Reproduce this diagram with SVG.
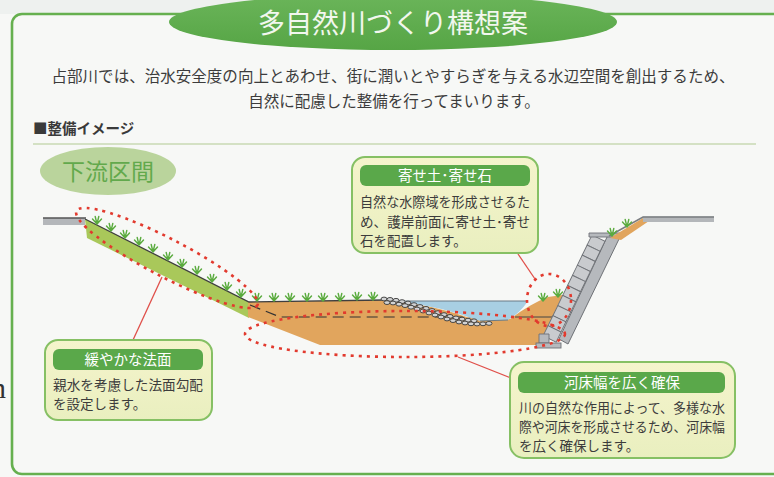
<svg xmlns="http://www.w3.org/2000/svg" width="774" height="477" viewBox="0 0 774 477">
  <defs>
    <style>
      .jp { font-family: "Noto Sans CJK JP", "Noto Sans CJK SC", sans-serif; }
      .body { font-size: 15.5px; fill: #3c3c3c; }
      .note { font-size: 13.5px; fill: #3c3c3c; }
      .head { font-size: 14.5px; fill: #ffffff; text-anchor: middle; }
      .box { fill: url(#boxFill); stroke: #86c064; stroke-width: 2; }
      .bar { fill: #5aa84a; }
      .dots { fill: none; stroke: #e23a2e; stroke-width: 2.6; stroke-dasharray: 3 5; }
      .lead { stroke: #e0504a; stroke-width: 1.3; fill: none; }
      .rock { fill: #d2d3d4; stroke: #3a3a3a; stroke-width: 0.9; }
      .blk { fill: #c9cbce; stroke: #6e7176; stroke-width: 0.9; }
      .grass { fill: none; stroke: #5aab3e; stroke-width: 1.4; stroke-linecap: round; }
    </style>
    <linearGradient id="boxFill" x1="0" y1="0" x2="0" y2="1">
      <stop offset="0" stop-color="#f5f4cc"/>
      <stop offset="1" stop-color="#e9efbf"/>
    </linearGradient>
    <linearGradient id="titleFill" x1="0" y1="0" x2="0" y2="1">
      <stop offset="0" stop-color="#6bb55a"/>
      <stop offset="1" stop-color="#56a545"/>
    </linearGradient>
    <!-- small grass tuft, base at origin -->
    <g id="tuft">
      <path class="grass" d="M0,0 L-4.5,-5 M0,0 L-1.8,-7.5 M0,0 L1.8,-7.5 M0,0 L4.5,-5"/>
    </g>
  </defs>

  <!-- page -->
  <rect x="0" y="0" width="774" height="477" fill="#eef1ef"/>
  <rect x="0" y="14" width="774" height="463" fill="#f7f8f6"/>
  <rect x="12" y="14" width="800" height="460" rx="10" fill="#f7f8f6" stroke="#66b04f" stroke-width="2.6"/>
  <text x="-9" y="398" font-family="Liberation Serif, serif" font-size="30" fill="#333">n</text>

  <!-- title -->
  <g id="title">
    <ellipse cx="393" cy="22" rx="224" ry="28" fill="url(#titleFill)"/>
    <text class="jp" x="393" y="33" font-size="27" fill="#f2f7ee" text-anchor="middle">多自然川づくり構想案</text>
  </g>

  <!-- intro -->
  <g id="intro" class="jp body" text-anchor="middle">
    <text x="393" y="82" textLength="683" lengthAdjust="spacingAndGlyphs">占部川では、治水安全度の向上とあわせ、街に潤いとやすらぎを与える水辺空間を創出するため、</text>
    <text x="394" y="107">自然に配慮した整備を行ってまいります。</text>
  </g>
  <text class="jp" x="33" y="134" font-size="14.5" font-weight="bold" fill="#3a3a3a">■整備イメージ</text>
  <line x1="33" y1="144" x2="756" y2="144" stroke="#c9dab3" stroke-width="1.5"/>

  <!-- section label -->
  <g id="label-downstream">
    <ellipse cx="108" cy="171" rx="68" ry="24" fill="#bad49c"/>
    <text class="jp" x="108" y="180" font-size="23" fill="#62a94c" text-anchor="middle">下流区間</text>
  </g>

  <!-- cross-section -->
  <g id="cross-section">
    <!-- gentle grassed slope -->
    <path d="M85,219 L249,302 L249,318 L87,238 Z" fill="#a9c85a"/>
    <!-- earth body -->
    <path d="M248,302 L385,300 Q430,304 470,318 L510,319 Q530,304 548,297 L562,295 L562,297 L544,334 L541,345 L320,345 L248,317 Z" fill="#e1a55d"/>
    <!-- former ground line -->
    <path d="M250,305 L280,317 L520,317" fill="none" stroke="#333" stroke-width="1.2" stroke-dasharray="11 6"/>
    <!-- water -->
    <path d="M396,301 L528,301 Q520,313 508,320 L480,321 Q440,306 396,301 Z" fill="#a8cfe3"/>
    <line x1="396" y1="301" x2="528" y2="301" stroke="#6b7b85" stroke-width="1.2"/>
    <line x1="515" y1="317" x2="577" y2="317" stroke="#444" stroke-width="1"/>
    <!-- ground surface -->
    <path d="M85,219 L249,302 L385,300" fill="none" stroke="#3f3f3f" stroke-width="1.3"/>
    <!-- placed stones -->
    <g id="stones">
      <ellipse class="rock" cx="384" cy="299" rx="3" ry="1.9"/>
      <ellipse class="rock" cx="390" cy="299.4" rx="3" ry="1.9"/>
      <ellipse class="rock" cx="396" cy="300.3" rx="3" ry="1.9"/>
      <ellipse class="rock" cx="402" cy="301.6" rx="3" ry="1.9"/>
      <ellipse class="rock" cx="408" cy="303" rx="3" ry="1.9"/>
      <ellipse class="rock" cx="414" cy="304.6" rx="3" ry="1.9"/>
      <ellipse class="rock" cx="420" cy="306.5" rx="3" ry="1.9"/>
      <ellipse class="rock" cx="426" cy="308.4" rx="3" ry="1.9"/>
      <ellipse class="rock" cx="432" cy="310.5" rx="3" ry="1.9"/>
      <ellipse class="rock" cx="438" cy="312.6" rx="3" ry="1.9"/>
      <ellipse class="rock" cx="444" cy="314.6" rx="3" ry="1.9"/>
      <ellipse class="rock" cx="450" cy="316.4" rx="3" ry="1.9"/>
      <ellipse class="rock" cx="456" cy="317.9" rx="3" ry="1.9"/>
      <ellipse class="rock" cx="462" cy="319.1" rx="3" ry="1.9"/>
      <ellipse class="rock" cx="468" cy="320.2" rx="3" ry="1.9"/>
      <ellipse class="rock" cx="474" cy="320.8" rx="3" ry="1.9"/>
      <ellipse class="rock" cx="387" cy="302.6" rx="3" ry="1.9"/>
      <ellipse class="rock" cx="393" cy="303" rx="3" ry="1.9"/>
      <ellipse class="rock" cx="399" cy="304.2" rx="3" ry="1.9"/>
      <ellipse class="rock" cx="405" cy="305.6" rx="3" ry="1.9"/>
      <ellipse class="rock" cx="411" cy="307.2" rx="3" ry="1.9"/>
      <ellipse class="rock" cx="417" cy="309" rx="3" ry="1.9"/>
      <ellipse class="rock" cx="423" cy="311" rx="3" ry="1.9"/>
      <ellipse class="rock" cx="429" cy="313" rx="3" ry="1.9"/>
      <ellipse class="rock" cx="435" cy="315" rx="3" ry="1.9"/>
      <ellipse class="rock" cx="441" cy="317" rx="3" ry="1.9"/>
      <ellipse class="rock" cx="447" cy="319" rx="3" ry="1.9"/>
      <ellipse class="rock" cx="453" cy="320.6" rx="3" ry="1.9"/>
      <ellipse class="rock" cx="459" cy="322" rx="3" ry="1.9"/>
      <ellipse class="rock" cx="465" cy="323" rx="3" ry="1.9"/>
      <ellipse class="rock" cx="471" cy="323.8" rx="3" ry="1.9"/>
      <ellipse class="rock" cx="477" cy="324" rx="3" ry="1.9"/>
      <ellipse class="rock" cx="483" cy="323.8" rx="3" ry="1.9"/>
      <ellipse class="rock" cx="489" cy="323.4" rx="3" ry="1.9"/>
    </g>
    <path d="M480,321 L508,320" stroke="#6b7b85" stroke-width="1" fill="none"/>

    <!-- block revetment -->
    <g id="revetment">
      <path d="M608,235 L620,237 L568,344 L559,339 Z" fill="#b6b9bd" stroke="#6e7176" stroke-width="1"/>
      <g transform="translate(592,235) rotate(25.85)">
        <rect class="blk" x="0" y="0" width="14.4" height="11.2"/>
        <rect class="blk" x="0" y="11.2" width="14.4" height="11.2"/>
        <rect class="blk" x="0" y="22.4" width="14.4" height="11.2"/>
        <rect class="blk" x="0" y="33.6" width="14.4" height="11.2"/>
        <rect class="blk" x="0" y="44.8" width="14.4" height="11.2"/>
        <rect class="blk" x="0" y="56" width="14.4" height="11.2"/>
        <rect class="blk" x="0" y="67.2" width="14.4" height="11.2"/>
        <rect class="blk" x="0" y="78.4" width="14.4" height="11.2"/>
        <rect class="blk" x="0" y="89.6" width="14.4" height="11.2"/>
        <rect class="blk" x="0" y="100.8" width="14.4" height="11.2"/>
      </g>
      <path d="M589,233 L621,233 L621,237 L589,237 Z" fill="#b6b9bd" stroke="#6e7176" stroke-width="0.9"/>
      <path d="M539,334 L549,334 L549,343 L539,343 Z" fill="#b6b9bd" stroke="#6e7176" stroke-width="0.9"/>
      <rect x="536" y="343" width="25" height="5" fill="#b6b9bd" stroke="#6e7176" stroke-width="0.9"/>
    </g>

    <!-- left top ground -->
    <rect x="43" y="218" width="42" height="7" fill="#b4b7ba"/>
    <line x1="43" y1="218" x2="86" y2="218" stroke="#555" stroke-width="1.3"/>
    <!-- right top ground -->
    <path d="M610,238 L643,218 L649,221 L621,240 Z" fill="#e1a55d"/>
    <rect x="643" y="216.5" width="71" height="5.5" fill="#b4b7ba"/>
    <path d="M609,236 L643,217 L714,217" fill="none" stroke="#7a7d80" stroke-width="1.6"/>

    <!-- grass tufts -->
    <g id="tufts">
      <use href="#tuft" x="97" y="224"/>
      <use href="#tuft" x="111" y="231"/>
      <use href="#tuft" x="125" y="238"/>
      <use href="#tuft" x="139" y="245"/>
      <use href="#tuft" x="153" y="252"/>
      <use href="#tuft" x="168" y="260"/>
      <use href="#tuft" x="182" y="267"/>
      <use href="#tuft" x="197" y="274"/>
      <use href="#tuft" x="212" y="282"/>
      <use href="#tuft" x="227" y="290"/>
      <use href="#tuft" x="241" y="297"/>
      <use href="#tuft" x="257" y="301"/>
      <use href="#tuft" x="274" y="301"/>
      <use href="#tuft" x="290" y="301"/>
      <use href="#tuft" x="307" y="301"/>
      <use href="#tuft" x="323" y="301"/>
      <use href="#tuft" x="340" y="301"/>
      <use href="#tuft" x="357" y="300"/>
      <use href="#tuft" x="373" y="300"/>
      <use href="#tuft" x="543" y="301"/>
      <use href="#tuft" x="558" y="297"/>
      <use href="#tuft" x="612" y="236"/>
      <use href="#tuft" x="627" y="227"/>
    </g>
  </g>

  <!-- highlighted zones -->
  <g id="zones">
    <ellipse class="dots" cx="167" cy="258" rx="102" ry="19" transform="rotate(27.5 167 258)"/>
    <ellipse class="dots" cx="405" cy="334" rx="160" ry="23"/>
    <ellipse class="dots" cx="549" cy="300" rx="22" ry="26"/>
  </g>

  <!-- connectors -->
  <g id="connectors">
    <line class="lead" x1="162" y1="277" x2="133" y2="340"/>
    <line class="lead" x1="518" y1="254" x2="535" y2="279"/>
    <line class="lead" x1="458" y1="357" x2="511" y2="378"/>
  </g>

  <!-- callouts -->
  <g id="callout-yose">
    <rect class="box" x="352" y="157" width="186" height="96" rx="13"/>
    <rect class="bar" x="360" y="165" width="170" height="21" rx="6"/>
    <text class="jp head" x="445" y="181">寄せ土･寄せ石</text>
    <g class="jp note">
      <text x="360" y="207" textLength="170" lengthAdjust="spacingAndGlyphs">自然な水際域を形成させるた</text>
      <text x="360" y="227" textLength="170" lengthAdjust="spacingAndGlyphs">め、護岸前面に寄せ土･寄せ</text>
      <text x="360" y="246">石を配置します。</text>
    </g>
  </g>

  <g id="callout-slope">
    <rect class="box" x="45" y="340" width="167" height="80" rx="13"/>
    <rect class="bar" x="53" y="349" width="150" height="21" rx="6"/>
    <text class="jp head" x="128" y="365">緩やかな法面</text>
    <g class="jp note">
      <text x="53" y="390" textLength="150" lengthAdjust="spacingAndGlyphs">親水を考慮した法面勾配</text>
      <text x="53" y="409">を設定します。</text>
    </g>
  </g>

  <g id="callout-riverbed">
    <rect class="box" x="510" y="362" width="225" height="96" rx="14"/>
    <rect class="bar" x="518" y="372" width="207" height="21" rx="6"/>
    <text class="jp head" x="622" y="388">河床幅を広く確保</text>
    <g class="jp note">
      <text x="519" y="413" textLength="206" lengthAdjust="spacingAndGlyphs">川の自然な作用によって、多様な水</text>
      <text x="519" y="432" textLength="206" lengthAdjust="spacingAndGlyphs">際や河床を形成させるため、河床幅</text>
      <text x="519" y="451">を広く確保します。</text>
    </g>
  </g>
</svg>
